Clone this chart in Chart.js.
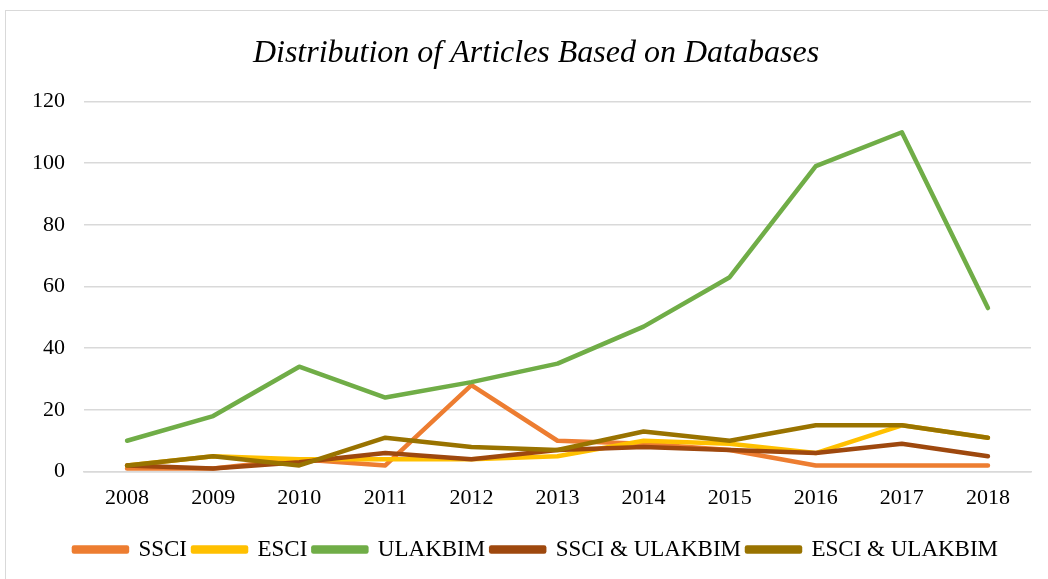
<!DOCTYPE html>
<html>
<head>
<meta charset="utf-8">
<script src="https://cdn.jsdelivr.net/npm/chart.js@4/dist/chart.umd.min.js"></script>
<style>
  html, body { margin: 0; padding: 0; background: #fff; }
  #wrap { position: relative; width: 1048px; height: 579px; }
  #frame { position: absolute; left: 5px; top: 10px; width: 1060px; height: 600px; border: 1px solid #d9d9d9; box-sizing: border-box; }
  canvas { position: absolute; left: 0; top: 0; }
</style>
</head>
<body>
<div id="wrap">
  <div id="frame"></div>
  <canvas id="chart" width="1048" height="579"></canvas>
</div>
<script>
// data
const years = ['2008','2009','2010','2011','2012','2013','2014','2015','2016','2017','2018'];
const ssci        = [1, 1, 4, 2, 28, 10, 9, 7, 2, 2, 2];
const esci        = [2, 5, 4, 4, 4, 5, 10, 9, 6, 15, 11];
const ulakbim     = [10, 18, 34, 24, 29, 35, 47, 63, 99, 110, 53];
const ssciUlakbim = [2, 1, 3, 6, 4, 7, 8, 7, 6, 9, 5];
const esciUlakbim = [2, 5, 2, 11, 8, 7, 13, 10, 15, 15, 11];
const seriesNames = ['SSCI', 'ESCI', 'ULAKBIM', 'SSCI & ULAKBIM', 'ESCI & ULAKBIM'];
const yTicks = [0, 20, 40, 60, 80, 100, 120];

const COLORS = ['#ED7D31', '#FFC000', '#70AD47', '#9E480E', '#997300'];
const FONT = '"Liberation Serif", "Times New Roman", serif';

const series = [ssci, esci, ulakbim, ssciUlakbim, esciUlakbim];

// Excel centres title and legend a bit right of the canvas middle
const shiftBlocks = {
  id: 'shiftBlocks',
  afterLayout(chart) {
    [chart.titleBlock, chart.legend].forEach(b => {
      if (!b) return;
      b.left += 14;
      b.right += 14;
    });
  }
};

const ctx = document.getElementById('chart').getContext('2d');
new Chart(ctx, {
  type: 'line',
  data: {
    labels: years,
    datasets: series.map((data, i) => ({
      label: seriesNames[i],
      data,
      borderColor: COLORS[i],
      backgroundColor: COLORS[i],
      borderWidth: 4.5,
      borderCapStyle: 'round',
      borderJoinStyle: 'round',
      pointRadius: 0,
      tension: 0,
      fill: false,
      order: series.length - i   // later series on top, like Excel
    }))
  },
  plugins: [shiftBlocks],
  options: {
    responsive: false,
    animation: false,
    layout: { padding: { left: 13, right: 17, top: 10, bottom: 8 } },
    plugins: {
      title: {
        display: true,
        text: 'Distribution of Articles Based on Databases',
        color: '#000',
        font: { family: FONT, size: 32, style: 'italic', weight: 'normal' },
        padding: { top: 24, bottom: 29 }
      },
      legend: {
        position: 'bottom',
        labels: {
          color: '#000',
          font: { family: FONT, size: 23 },
          boxWidth: 53,
          boxHeight: 4,
          padding: 6,
          sort: (a, b) => a.datasetIndex - b.datasetIndex
        }
      },
      tooltip: { enabled: false }
    },
    scales: {
      x: {
        offset: true,
        grid: { display: false, drawTicks: false },
        border: { color: '#d9d9d9', width: 1.5 },
        ticks: { color: '#000', font: { family: FONT, size: 22 }, padding: 13 },
        afterFit: axis => { axis.height += 8; }
      },
      y: {
        min: 0,
        max: 120,
        afterBuildTicks: axis => { axis.ticks = yTicks.map(v => ({ value: v })); },
        grid: { color: '#d9d9d9', lineWidth: 1.5, drawTicks: false },
        border: { display: false },
        ticks: { color: '#000', font: { family: FONT, size: 22 }, padding: 19 }
      }
    }
  }
});
</script>
</body>
</html>
